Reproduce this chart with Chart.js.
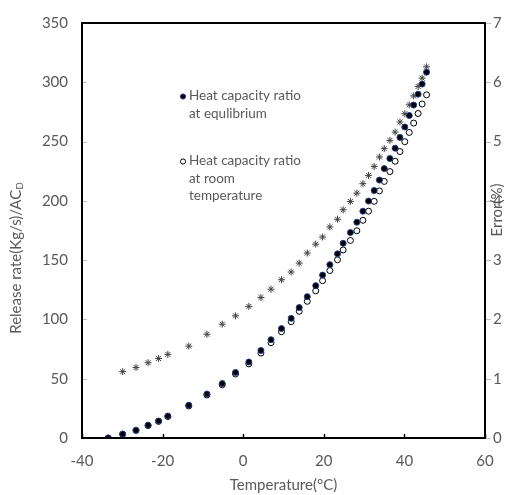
<!DOCTYPE html>
<html>
<head>
<meta charset="utf-8">
<style>
  html, body { margin: 0; padding: 0; background: #fff; }
  #wrap { width: 522px; height: 495px; }
</style>
</head>
<body>
<div id="wrap"><canvas id="myChart" width="522" height="495"></canvas></div>
<script src="https://cdn.jsdelivr.net/npm/chart.js"></script>
<script>
    // temperature (deg C) of each point
    const temps = [-33.5, -29.9, -26.6, -23.6, -21.0, -18.7, -13.5, -9.0, -5.2, -1.9,
        1.4, 4.4, 6.9, 9.5, 11.9, 13.9, 15.9, 18.0, 19.7, 21.5,
        23.4, 24.8, 26.6, 28.2, 29.7, 31.1, 32.5, 33.8, 35.0, 36.4,
        37.7, 38.9, 40.1, 41.2, 42.3, 43.4, 44.4, 45.5];
    // release rate, heat capacity ratio at equilibrium
    const releaseEq = [0, 3.3, 6.6, 10.8, 14.3, 18.5, 27.6, 37.1, 45.9, 55.3,
        64.1, 73.8, 82.9, 92.3, 100.9, 110.0, 119.2, 128.5, 137.4, 146.2,
        155.3, 164.2, 173.3, 182.0, 191.3, 199.8, 208.7, 217.5, 227.2, 235.7,
        244.4, 253.5, 262.3, 272.0, 280.8, 290.0, 298.5, 308.5];
    // release rate, heat capacity ratio at room temperature
    const releaseRoom = [0, 3.2, 6.4, 10.5, 14.0, 18.1, 27.0, 36.3, 44.9, 54.0,
        62.5, 71.6, 80.4, 89.6, 98.1, 106.9, 115.3, 124.1, 132.7, 141.2,
        150.3, 158.6, 166.6, 174.8, 183.6, 191.3, 199.6, 208.4, 216.4, 224.7,
        233.4, 241.6, 249.9, 257.7, 265.6, 273.7, 281.7, 289.4];
    // error (%) on the right axis
    const errorPct = [null, 1.12, 1.19, 1.27, 1.34, 1.41, 1.55, 1.75, 1.92, 2.06,
        2.22, 2.37, 2.51, 2.67, 2.80, 2.95, 3.12, 3.27, 3.39, 3.56,
        3.69, 3.85, 3.99, 4.13, 4.29, 4.43, 4.58, 4.74, 4.88, 5.02,
        5.16, 5.33, 5.47, 5.62, 5.77, 5.93, 6.07, 6.26];

    const legendLabels = [
        ['Heat capacity ratio', 'at equlibrium'],
        ['Heat capacity ratio', 'at room', 'temperature']
    ];
    const xTitle = 'Temperature(\u00B0C)';
    const yTitle = 'Release rate(Kg/s)/AC';
    const yTitleSub = 'D';
    const y2Title = 'Error(%)';

    const FONT = 'Lato, "Open Sans", sans-serif';
    const GRAY = '#595959';

    const toXY = (ys) => temps.map((t, i) => ({ x: t, y: ys[i] }));

    // frame, inner ticks, titles and legend
    const decor = {
        id: 'decor',
        afterDatasetsDraw(chart) {
            const c = chart.ctx;
            const a = chart.chartArea;
            const sx = chart.scales.x, sy = chart.scales.y, sy2 = chart.scales.y2;
            c.save();
            // small ticks
            c.lineWidth = 1;
            c.strokeStyle = '#bfbfbf';
            sy.ticks.forEach(t => {
                const p = Math.round(sy.getPixelForValue(t.value)) + 0.5;
                c.beginPath(); c.moveTo(a.left, p); c.lineTo(a.left + 5, p); c.stroke();
            });
            sy2.ticks.forEach(t => {
                const p = Math.round(sy2.getPixelForValue(t.value)) + 0.5;
                c.beginPath(); c.moveTo(a.right, p); c.lineTo(a.right + 6, p); c.stroke();
            });
            c.strokeStyle = '#000';
            c.lineWidth = 1.5;
            sx.ticks.forEach(t => {
                const p = Math.round(sx.getPixelForValue(t.value)) + 0.5;
                c.beginPath(); c.moveTo(p, a.bottom); c.lineTo(p, a.bottom - 4); c.stroke();
            });
            // plot frame
            c.lineWidth = 2;
            c.strokeStyle = '#000';
            c.strokeRect(a.left, a.top, a.right - a.left, a.bottom - a.top);

            // axis titles
            c.fillStyle = GRAY;
            c.font = '15px ' + FONT;
            c.textAlign = 'center';
            c.textBaseline = 'middle';
            c.fillText(xTitle, (a.left + a.right) / 2, 485);

            c.save();
            c.translate(16, 258);
            c.rotate(-Math.PI / 2);
            c.font = '15px ' + FONT;
            const w1 = c.measureText(yTitle).width;
            c.font = '10px ' + FONT;
            const w2 = c.measureText(yTitleSub).width;
            const start = -(w1 + w2) / 2;
            c.textAlign = 'left';
            c.font = '15px ' + FONT;
            c.fillText(yTitle, start, 0);
            c.font = '10px ' + FONT;
            c.fillText(yTitleSub, start + w1, 4);
            c.restore();

            c.save();
            c.translate(497, 210);
            c.rotate(-Math.PI / 2);
            c.font = '15px ' + FONT;
            c.textAlign = 'center';
            c.fillText(y2Title, 0, 0);
            c.restore();

            // legend
            const entries = [
                { ds: chart.data.datasets[0], y: 96 },
                { ds: chart.data.datasets[1], y: 161 }
            ];
            c.font = '13.5px ' + FONT;
            c.textAlign = 'left';
            entries.forEach((e, k) => {
                c.beginPath();
                c.arc(183, e.y + 0.5, 2.6, 0, Math.PI * 2);
                c.fillStyle = e.ds.backgroundColor;
                c.fill();
                c.lineWidth = 1;
                c.strokeStyle = e.ds.borderColor;
                c.stroke();
                c.fillStyle = GRAY;
                legendLabels[k].forEach((line, j) => {
                    c.fillText(line, 189, e.y + j * 17.5);
                });
            });
            c.restore();
        }
    };

    const ctx = document.getElementById('myChart').getContext('2d');
    const myChart = new Chart(ctx, {
        type: 'scatter',
        data: {
            datasets: [{
                label: 'Heat capacity ratio at equlibrium',
                data: toXY(releaseEq),
                backgroundColor: '#000000',
                borderColor: '#1f3f8f',
                borderWidth: 1,
                pointRadius: 3,
                yAxisID: 'y'
            }, {
                label: 'Heat capacity ratio at room temperature',
                data: toXY(releaseRoom),
                backgroundColor: '#ffffff',
                borderColor: '#000000',
                borderWidth: 1,
                pointRadius: 3,
                yAxisID: 'y'
            }, {
                label: 'Error',
                data: toXY(errorPct),
                pointStyle: 'star',
                backgroundColor: '#404040',
                borderColor: '#404040',
                borderWidth: 1,
                pointRadius: 3.5,
                yAxisID: 'y2'
            }]
        },
        options: {
            responsive: false,
            animation: false,
            layout: { padding: { top: 16, left: 0, right: 0, bottom: 0 } },
            plugins: {
                legend: { display: false },
                tooltip: { enabled: false }
            },
            scales: {
                x: {
                    type: 'linear',
                    min: -40, max: 60,
                    ticks: { stepSize: 20, color: GRAY, font: { family: FONT, size: 15 }, padding: 14 },
                    grid: { display: false, drawTicks: false },
                    border: { display: false },
                    afterFit(s) { s.height = 57; }
                },
                y: {
                    position: 'left',
                    min: 0, max: 350,
                    ticks: { stepSize: 50, color: GRAY, font: { family: FONT, size: 15 }, padding: 14 },
                    grid: { display: false, drawTicks: false },
                    border: { display: false },
                    afterFit(s) { s.width = 82; }
                },
                y2: {
                    position: 'right',
                    min: 0, max: 7,
                    ticks: { stepSize: 1, color: GRAY, font: { family: FONT, size: 15 }, padding: 8 },
                    grid: { display: false, drawTicks: false },
                    border: { display: false },
                    afterFit(s) { s.width = 37; }
                }
            }
        },
        plugins: [decor]
    });
</script>
</body>
</html>
